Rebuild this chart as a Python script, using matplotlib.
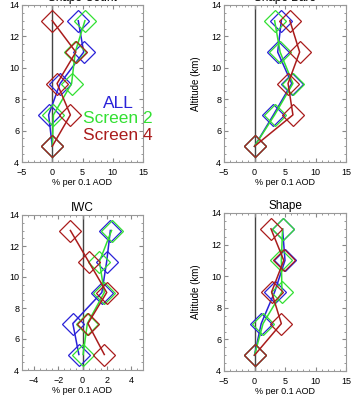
import numpy as np
import matplotlib
matplotlib.use('Agg')
import matplotlib.pyplot as plt
from matplotlib.ticker import MultipleLocator

plt.rcParams['font.family'] = ['Liberation Sans', 'DejaVu Sans']

# altitude levels (km)
alt = [5, 7, 9, 11, 13]

# % per 0.1 AOD
count_all = [0.0, -0.6, 1.3, 5.2, 4.3]
count_s2 = [0.0, 0.2, 3.2, 3.8, 5.4]
count_s4 = [0.0, 3.0, 0.8, 3.9, 0.0]

bare_all = [0.0, 3.1, 6.1, 3.8, 4.4]
bare_s2 = [0.0, 3.3, 6.3, 4.2, 3.3]
bare_s4 = [0.0, 6.3, 5.5, 7.4, 5.8]

iwc_all = [-0.3, -0.8, 1.6, 2.0, 2.3]
iwc_s2 = [0.05, 0.4, 1.8, 1.4, 2.4]
iwc_s4 = [1.8, 0.45, 2.0, 0.5, -1.0]

shape_all = [0.0, 1.1, 3.3, 5.0, 4.6]
shape_s2 = [0.0, 1.4, 4.5, 4.4, 4.6]
shape_s4 = [0.0, 4.4, 2.8, 4.8, 2.7]

titles = ['Shape Count', 'Shape Bare', 'IWC', 'Shape']
xlims = [(-5, 15), (-5, 15), (-5, 5), (-5, 15)]
xmajor = [5, 5, 2, 5]
xminor = [1, 1, 0.5, 1]
panels = [
    (count_all, count_s2, count_s4),
    (bare_all, bare_s2, bare_s4),
    (iwc_all, iwc_s2, iwc_s4),
    (shape_all, shape_s2, shape_s4),
]
colors = ['#2a22d8', '#33e033', '#aa1c1c']
labels = ['ALL', 'Screen 2', 'Screen 4']

W, H = 358, 395
fig = plt.figure(figsize=(W / 100, H / 100), dpi=100)
# axes boxes in pixels: left, top, right, bottom
boxes = [(22, 5, 143, 162), (224, 5, 346, 162),
         (22, 215, 143, 370), (224, 213, 346, 371)]

for i, (l, t, r, b) in enumerate(boxes):
    ax = fig.add_axes([l / W, 1 - b / H, (r - l) / W, (b - t) / H])
    ax.axvline(0, color='#444444', lw=1.0, zorder=1)
    for vals, c in zip(panels[i], colors):
        ax.plot(vals, alt, color=c, lw=1.1, marker='D', ms=11,
                mfc='none', mec=c, mew=0.9, zorder=2)
    ax.set_xlim(*xlims[i])
    ax.set_ylim(4, 14)
    ax.xaxis.set_major_locator(MultipleLocator(xmajor[i]))
    ax.xaxis.set_minor_locator(MultipleLocator(xminor[i]))
    ax.yaxis.set_major_locator(MultipleLocator(2))
    ax.yaxis.set_minor_locator(MultipleLocator(0.5))
    ax.tick_params(which='both', direction='in', top=True, right=True,
                   labelsize=6.5, color='#888888', pad=2)
    ax.tick_params(axis='x', which='major', pad=4)
    ax.tick_params(which='major', length=3)
    ax.tick_params(which='minor', length=1.5)
    for s in ax.spines.values():
        s.set_color('#999999')
        s.set_linewidth(0.8)
    ax.set_xlabel('% per 0.1 AOD', fontsize=6.5, labelpad=1)
    ax.set_ylabel('Altitude (km)', fontsize=7)
    ax.yaxis.set_label_coords(-0.19, 0.5)
    ax.set_title(titles[i], fontsize=8.5, pad=3)

    if i == 0:
        for lab, c, y in zip(labels, colors, [7.75, 6.8, 5.7]):
            ax.text(10.9, y, lab, color=c, fontsize=12.5, ha='center',
                    va='center', clip_on=False)

fig.savefig('out.png', dpi=100)
